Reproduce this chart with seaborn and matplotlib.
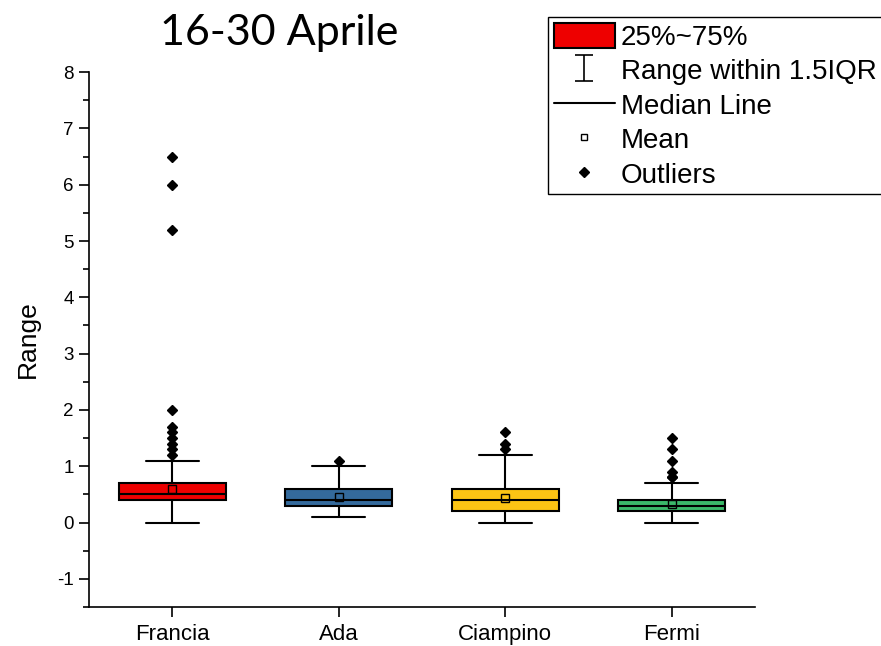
import numpy as np
import pandas as pd
import seaborn as sns
import matplotlib.pyplot as plt
from matplotlib.patches import Patch
from matplotlib.lines import Line2D
from matplotlib.path import Path
from matplotlib.ticker import MultipleLocator

# Range values per station, stored as value / count tables
stations = ['Francia', 'Ada', 'Ciampino', 'Fermi']
colors = ['#EE0000', '#346A9C', '#FCC414', '#3BB96A']

francia_vals = [0.0, 0.1, 0.2, 0.3, 0.4, 0.5, 0.6, 0.7, 0.8, 0.9, 1.0, 1.1,
                1.2, 1.3, 1.4, 1.5, 1.6, 1.7, 2.0, 5.2, 6.0, 6.5]
francia_counts = [3, 5, 10, 25, 60, 65, 30, 35, 12, 8, 5, 3,
                  1, 1, 1, 1, 1, 1, 1, 1, 1, 1]

ada_vals = [0.1, 0.2, 0.3, 0.4, 0.5, 0.6, 0.7, 0.8, 0.9, 1.0, 1.1]
ada_counts = [4, 20, 45, 50, 35, 30, 12, 7, 4, 2, 1]

ciampino_vals = [0.0, 0.1, 0.2, 0.3, 0.4, 0.5, 0.6, 0.7, 0.8, 0.9, 1.0, 1.1,
                 1.2, 1.3, 1.4, 1.6]
ciampino_counts = [8, 15, 40, 30, 35, 30, 30, 15, 10, 6, 4, 2, 1, 1, 1, 1]

fermi_vals = [0.0, 0.1, 0.2, 0.3, 0.4, 0.5, 0.6, 0.7, 0.8, 0.9, 1.1, 1.3, 1.5]
fermi_counts = [5, 20, 55, 60, 45, 20, 8, 4, 2, 1, 1, 1, 1]

tables = [(francia_vals, francia_counts), (ada_vals, ada_counts),
          (ciampino_vals, ciampino_counts), (fermi_vals, fermi_counts)]

frames = []
for name, (vals, counts) in zip(stations, tables):
    frames.append(pd.DataFrame({'Station': name,
                                'Range': np.repeat(vals, counts)}))
df = pd.concat(frames, ignore_index=True)

sns.set_style('ticks')
plt.rcParams['font.family'] = ['Liberation Sans', 'DejaVu Sans']
plt.rcParams['axes.unicode_minus'] = False
plt.rcParams['text.color'] = 'black'
plt.rcParams['axes.labelcolor'] = 'black'
plt.rcParams['xtick.color'] = 'black'
plt.rcParams['ytick.color'] = 'black'

fig = plt.figure(figsize=(8.81, 6.46), dpi=100)
ax = fig.add_axes([0.101, 0.0604, 0.756, 0.828])

sns.boxplot(data=df, x='Station', y='Range', hue='Station', order=stations,
            hue_order=stations, palette=colors, saturation=1, legend=False,
            width=0.64, linewidth=1.5, linecolor='black', whis=1.5,
            showmeans=True,
            meanprops=dict(marker='s', markerfacecolor='none',
                           markeredgecolor='black', markersize=6,
                           markeredgewidth=1),
            flierprops=dict(marker='D', markerfacecolor='black',
                            markeredgecolor='black', markersize=5),
            medianprops=dict(color='black', linewidth=1.5),
            ax=ax)

ax.set_xlim(-0.5, 3.5)
ax.set_ylim(-1.5, 8)
ax.yaxis.set_major_locator(MultipleLocator(1))
ax.yaxis.set_minor_locator(MultipleLocator(0.5))
for s in ['top', 'right']:
    ax.spines[s].set_visible(False)
for s in ['left', 'bottom']:
    ax.spines[s].set_linewidth(1.2)
    ax.spines[s].set_color('black')
ax.tick_params(axis='both', which='major', length=7, width=1.2,
               color='black', direction='out')
ax.tick_params(axis='y', which='minor', length=4, width=1.2,
               color='black', direction='out')
ax.tick_params(axis='y', labelsize=13.5, pad=4)
ax.tick_params(axis='x', labelsize=16, pad=5)
ax.set_xlabel('')
ax.set_ylabel('Range', fontsize=19, labelpad=12)

fig.text(279 / 881, 1 - 45 / 646, '16-30 Aprile', ha='center',
         va='baseline', fontsize=31, family=['Lato', 'DejaVu Sans'])

# legend handles mimic the Origin box chart legend
i_path = Path([(-0.7, 1), (0.7, 1), (0, 1), (0, -1), (-0.7, -1), (0.7, -1)],
              [Path.MOVETO, Path.LINETO, Path.MOVETO, Path.LINETO,
               Path.MOVETO, Path.LINETO])
handles = [
    Patch(facecolor=colors[0], edgecolor='black', linewidth=1.5),
    Line2D([], [], marker=i_path, markersize=19, markerfacecolor='none',
           markeredgecolor='black', markeredgewidth=1.2, linestyle='none'),
    Line2D([], [], color='black', linewidth=1.5),
    Line2D([], [], marker='s', markersize=5, markerfacecolor='white',
           markeredgecolor='black', markeredgewidth=1, linestyle='none'),
    Line2D([], [], marker='D', markersize=5, color='black', linestyle='none'),
]
labels = ['25%~75%', 'Range within 1.5IQR', 'Median Line', 'Mean', 'Outliers']
leg = fig.legend(handles, labels, loc='upper left',
                 bbox_to_anchor=(548 / 881, 1 - 17 / 646), fontsize=20,
                 frameon=True, fancybox=False, edgecolor='black',
                 framealpha=1, handlelength=2.2, handleheight=1.05,
                 labelspacing=0.22, borderpad=0.2, handletextpad=0.22,
                 borderaxespad=0)
leg.get_frame().set_linewidth(1)

fig.savefig('out.png', dpi=100)
